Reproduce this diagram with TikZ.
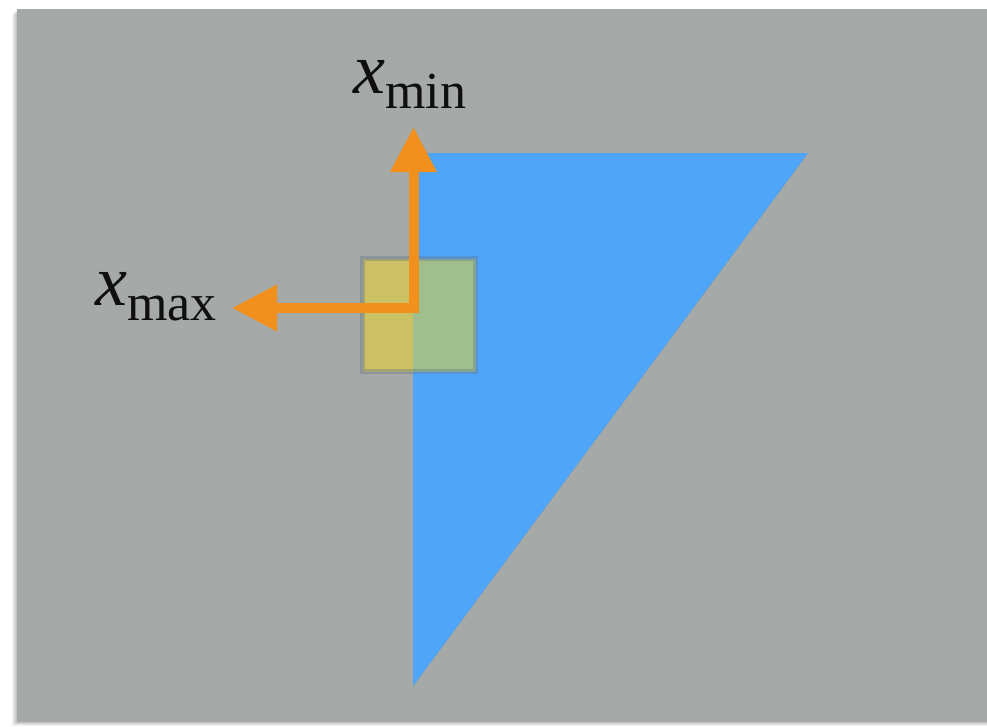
\documentclass[tikz,border=0pt]{standalone}
\usepackage{fontspec}
\setmainfont{Liberation Serif}
\usetikzlibrary{arrows.meta}
\definecolor{bggray}{RGB}{165,169,167}
\definecolor{triblue}{RGB}{79,166,249}
\definecolor{arroworange}{RGB}{242,144,29}
\definecolor{sqyellow}{RGB}{244,217,37}
\definecolor{sqborder}{RGB}{95,110,135}
\definecolor{labelblack}{RGB}{15,15,15}
\tikzset{
  arrowline/.style={draw=arroworange, line width=10pt, line join=miter,
    {Triangle[length=45pt,width=44pt]}-{Triangle[length=45pt,width=44pt]}},
  selbox/.style={rectangle, draw=sqborder, draw opacity=0.35, line width=5pt,
    fill=sqyellow, fill opacity=0.5, minimum size=113pt, inner sep=0pt},
  lab/.style={inner sep=0pt, anchor=base west, text=labelblack},
  shade/.style={fill=black, opacity=0.05}
}
\newcommand{\mylabel}[1]{\fontsize{72}{72}\selectfont\textit{x}\raisebox{-15pt}{\fontsize{52}{52}\selectfont #1}}
\begin{document}
\begin{tikzpicture}[x=1pt, y=-1pt]
\useasboundingbox (0,0) rectangle (987,726);
% background card with shadow
\foreach \s in {1,...,5} {
  \fill[shade] (17-\s, 9+\s) rectangle (992, 722+\s*0.8);
}
\fill[bggray] (17,9) rectangle (992,722);
% triangle
\coordinate (ta) at (413,153);
\coordinate (tb) at (808,153);
\coordinate (tc) at (413,686);
\foreach \s in {1,...,4} {
  \fill[black, opacity=0.06, shift={(0.6*\s,\s)}] (ta) -- (tb) -- (tc) -- cycle;
}
\fill[triblue] (ta) -- (tb) -- (tc) -- cycle;
% selection square
\node[selbox] (sq) at (419,315) {};
% axes arrows
\coordinate (o) at (413.5,308);
\coordinate (ytip) at (413.5,127);
\coordinate (xtip) at (232,308);
\draw[arrowline] (xtip) -- (o) -- (ytip);
% labels
\node[lab] (lmin) at (353,93) {\mylabel{min}};
\node[lab] (lmax) at (95,305) {\mylabel{max}};
\end{tikzpicture}
\end{document}
